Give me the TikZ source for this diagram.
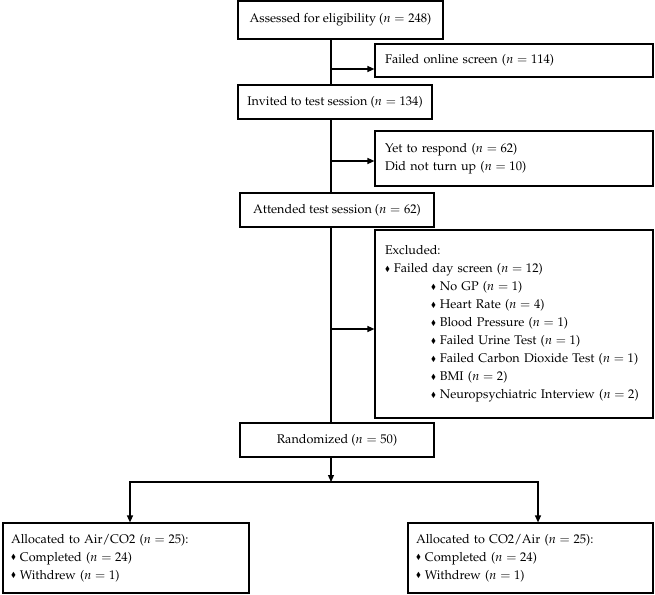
\documentclass[tikz,border=0pt]{standalone}
\usepackage[T1]{fontenc}
\usepackage{mathpazo}
\usepackage{amssymb}
\usetikzlibrary{arrows.meta}

\newcommand{\dia}{\raisebox{0.25ex}{\scriptsize$\blacklozenge$}\hspace{4pt}}

\begin{document}
\begin{tikzpicture}[x=1pt, y=-1pt, font=\fontsize{12.6}{18}\selectfont,
  box/.style={draw, line width=1.2pt, inner sep=0pt, align=center},
  listbox/.style={draw, line width=1.2pt, inner xsep=10pt, inner ysep=0pt, align=left},
  arr/.style={line width=1.2pt, -{Triangle[length=7pt,width=6pt]}}]

\useasboundingbox (0,0) rectangle (655,594);

%main boxes
\node[box, minimum width=205pt, minimum height=38pt] (assess) at (340.5,20) {Assessed for eligibility ($n = 248$)};
\node[box, minimum width=194pt, minimum height=34pt] (invite) at (335,102) {Invited to test session ($n = 134$)};
\node[box, minimum width=194pt, minimum height=34pt] (attend) at (337,210) {Attended test session ($n = 62$)};
\node[box, minimum width=194pt, minimum height=34pt] (rand) at (337,440) {Randomized ($n = 50$)};

%side boxes
\node[listbox, text width=258pt, minimum height=33pt] (fail) at (514,60.5) {Failed online screen ($n = 114$)};
\node[listbox, text width=258pt, minimum height=55pt] (yet) at (514,158.5) {Yet to respond ($n = 62$)\\Did not turn up ($n = 10$)};
\node[listbox, text width=258pt, minimum height=188pt] (excl) at (514,324) {Excluded:\\
\dia Failed day screen ($n = 12$)\\
\hspace*{46pt}\dia No GP ($n = 1$)\\
\hspace*{46pt}\dia Heart Rate ($n = 4$)\\
\hspace*{46pt}\dia Blood Pressure ($n = 1$)\\
\hspace*{46pt}\dia Failed Urine Test ($n = 1$)\\
\hspace*{46pt}\dia Failed Carbon Dioxide Test ($n = 1$)\\
\hspace*{46pt}\dia BMI ($n = 2$)\\
\hspace*{46pt}\dia Neuropsychiatric Interview ($n = 2$)};

%arms
\node[listbox, inner xsep=8pt, text width=230pt, minimum height=70pt] (airco) at (126,558) {Allocated to Air/CO2 ($n = 25$):\\
\dia Completed ($n = 24$)\\
\dia Withdrew ($n = 1$)};
\node[listbox, inner xsep=8pt, text width=229pt, minimum height=70pt] (coair) at (530.5,558) {Allocated to CO2/Air ($n = 25$):\\
\dia Completed ($n = 24$)\\
\dia Withdrew ($n = 1$)};

%spine
\coordinate (spine) at (331,0);
\draw[line width=1.2pt] (assess.south -| spine) -- (invite.north -| spine)
  (invite.south -| spine) -- (attend.north -| spine)
  (attend.south -| spine) -- (rand.north -| spine);

%branches
\foreach \b/\y in {fail/69, yet/161, excl/329}{
  \coordinate (j\b) at (331,\y);
  \draw[arr] (j\b) -- (j\b -| \b.west);
}

%split
\coordinate (split) at (331,482);
\draw[arr] (rand.south -| split) -- (split);
\draw[arr] (split) -| ([xshift=4pt]airco.north);
\draw[arr] (split) -| ([xshift=7.5pt]coair.north);

\end{tikzpicture}
\end{document}
